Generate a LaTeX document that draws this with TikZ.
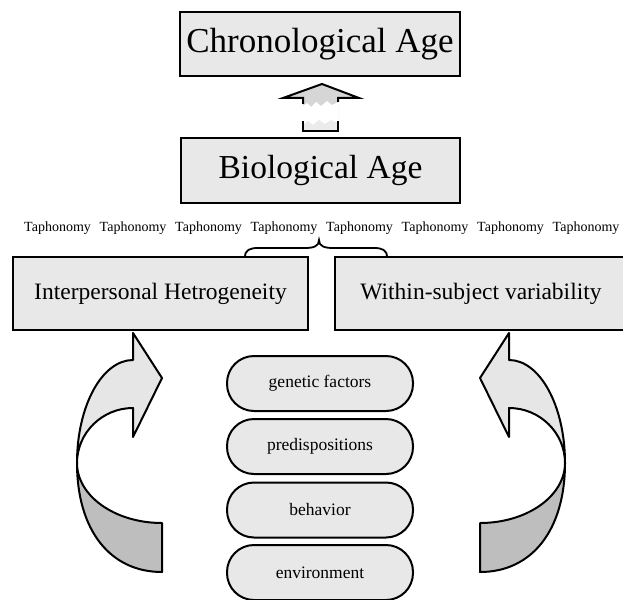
\documentclass[tikz,border=0pt]{standalone}
\usepackage{fontspec}
\setmainfont{Liberation Serif}
\definecolor{boxgray}{HTML}{E8E8E8}
\definecolor{lightarrow}{HTML}{E6E6E6}
\definecolor{darkarrow}{HTML}{BEBEBE}
\definecolor{arrgray}{HTML}{D6D6D6}
\newcommand{\mycurvarrow}{%
  \draw[lightpart] (133,360) -- (133,333) -- (162,378) -- (133,437) -- (133,408)
     .. controls (102,408) and (77,433) .. (77,463)
     .. controls (77,406) and (102,360) .. (133,360) -- cycle;
  \draw[darkpart] (77,463) .. controls (77,530) and (110,572) .. (162,572)
     -- (162,523) .. controls (115,523) and (77,496) .. (77,463) -- cycle;
}
\begin{document}
\begin{tikzpicture}[x=1pt,y=-1pt,
  box/.style={draw, fill=boxgray, line width=2.8pt, inner sep=0pt},
  pill/.style={draw, fill=boxgray, line width=2pt, rounded corners=27pt,
     minimum width=186pt, minimum height=55pt, inner sep=0pt,
     font=\fontsize{17.5}{20}\selectfont},
  lightpart/.style={draw, fill=lightarrow, line width=2pt, line join=round},
  darkpart/.style={draw, fill=darkarrow, line width=2pt, line join=round},
  tapho/.style={anchor=west, inner sep=0pt, font=\fontsize{14}{16}\selectfont},
  bracestyle/.style={draw, line width=1.8pt}]
\useasboundingbox (0,0) rectangle (623,599);

% top boxes
\node[box, minimum width=280pt, minimum height=64pt, font=\fontsize{35}{40}\selectfont]
  (chrono) at (320,44) {Chronological Age};
\node[box, minimum width=279pt, minimum height=65pt, font=\fontsize{33.5}{40}\selectfont]
  (bio) at (320.5,170.5) {Biological Age};

% up arrow between them
\fill[arrgray] (322,84) -- (359,98) -- (338,98) -- (338,131) -- (303,131) -- (303,98) -- (283,98) -- cycle;
\fill[white] (303,106) -- (307,103) -- (311,107) -- (316,102) -- (321,106) -- (327,101)
   -- (332,105) -- (338,102) -- (338,131) -- (303,131) -- cycle;
\fill[arrgray!50] (303,125) -- (308,121) -- (313,125) -- (319,120) -- (325,124) -- (331,120)
   -- (338,123) -- (338,131) -- (303,131) -- cycle;
\draw[line width=2pt, line join=miter] (303,104) -- (303,98) -- (283,98) -- (322,84)
   -- (359,98) -- (338,98) -- (338,102);
\draw[line width=2pt] (303,121) -- (303,131) -- (338,131) -- (338,121);

% Taphonomy row
\foreach \i in {0,...,7} {
  \node[tapho] (tap\i) at ({24+75.5*\i},228) {Taphonomy};
}

% middle boxes
\node[box, minimum width=295pt, minimum height=73pt, font=\fontsize{23.5}{28}\selectfont]
  (inter) at (160.5,293.5) {Interpersonal Hetrogeneity};
\node[box, minimum width=292pt, minimum height=73pt, font=\fontsize{23.5}{28}\selectfont]
  (within) at (481,293.5) {Within-subject variability};

% brace
\coordinate (braceL) at (245,257);
\coordinate (braceT) at (319,240);
\coordinate (braceR) at (387,257);
\path[bracestyle] (braceL) .. controls (245,250) and (250,248) .. (258,248) -- (305,248)
   .. controls (314,248) and (319,246) .. (braceT)
   .. controls (319,246) and (324,248) .. (333,248) -- (374,248)
   .. controls (382,248) and (387,250) .. (braceR);

% factor pills
\node[pill] (gen) at (320,383.5) {genetic factors};
\node[pill] (pre) at (320,446.5) {predispositions};
\node[pill] (beh) at (320,510) {behavior};
\node[pill] (env) at (320,572.5) {environment};

% curved arrows
\mycurvarrow
\begin{scope}[xshift=642pt, xscale=-1]
  \mycurvarrow
\end{scope}
\end{tikzpicture}
\end{document}
